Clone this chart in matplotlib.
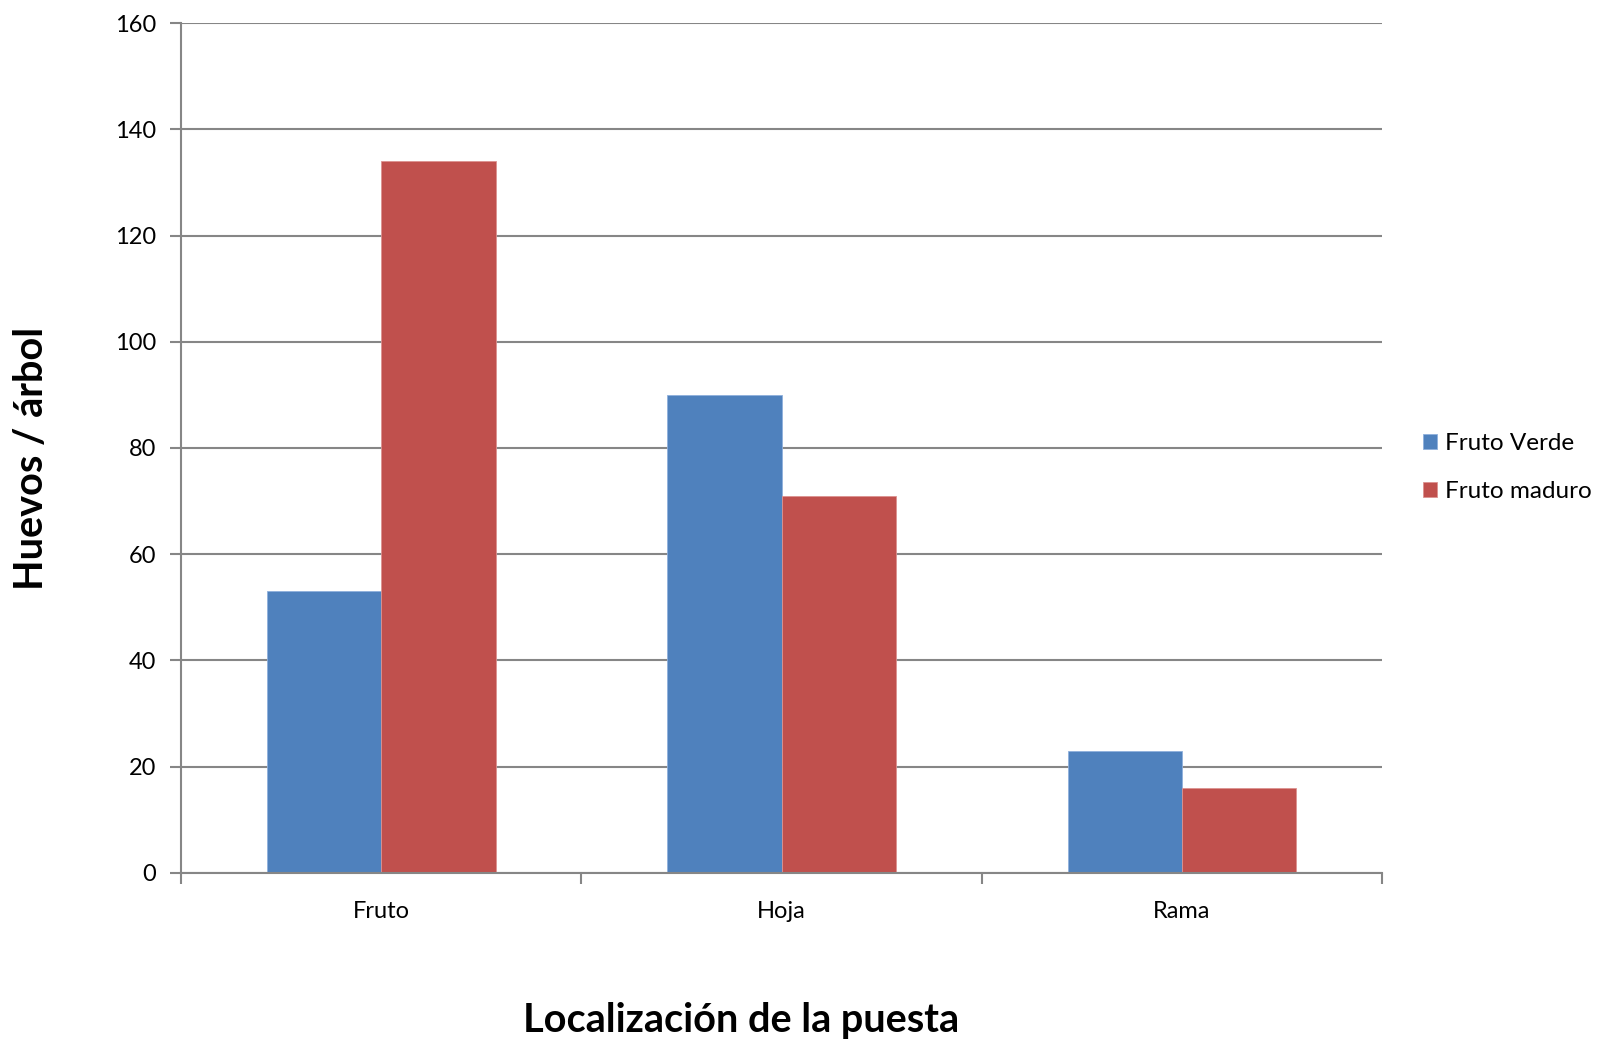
import matplotlib.pyplot as plt
import numpy as np

plt.rcParams["font.family"] = ["Lato", "DejaVu Sans"]

categories = ["Fruto", "Hoja", "Rama"]
series_names = ["Fruto Verde", "Fruto maduro"]
fruto_verde = [53, 90, 23]
fruto_maduro = [134, 71, 16]
colors = ["#4F81BD", "#C0504D"]
grid_color = "#868686"

fig = plt.figure(figsize=(16, 10.41), dpi=100)
ax = fig.add_axes([0.1131, 0.1614, 0.7507, 0.8165])

x = np.arange(len(categories))
width = 1 / 3.5
ax.bar(x - width / 2, fruto_verde, width, color=colors[0], label=series_names[0],
       edgecolor="#8fb0dc", linewidth=0.6, zorder=3)
ax.bar(x + width / 2, fruto_maduro, width, color=colors[1], label=series_names[1],
       edgecolor="#dc9290", linewidth=0.6, zorder=3)

ax.set_xlim(-0.5, len(categories) - 0.5)
ax.set_ylim(0, 160)
ax.set_yticks(np.arange(0, 161, 20))
ax.yaxis.grid(True, color=grid_color, lw=1.5, zorder=0)

# category boundaries carry the tick marks, labels sit at the centres
ax.set_xticks(np.arange(-0.5, len(categories), 1))
ax.set_xticklabels([])
ax.set_xticks(x, minor=True)
ax.set_xticklabels(categories, minor=True)
ax.tick_params(axis="x", which="major", length=8, width=1.5, color=grid_color)
ax.tick_params(axis="x", which="minor", length=0, pad=20, labelsize=17)
ax.tick_params(axis="y", length=8, width=1.5, color=grid_color, labelsize=17, pad=10)

for side in ["top", "right"]:
    ax.spines[side].set_visible(False)
for side in ["left", "bottom"]:
    ax.spines[side].set_color(grid_color)
    ax.spines[side].set_linewidth(1.5)
ax.spines["bottom"].set_zorder(4)

fig.text(0.463, 0.02, "Localización de la puesta", ha="center", va="center",
         fontsize=28.5, fontweight="bold")
fig.text(0.020, 0.56, "Huevos / árbol", ha="center", va="center",
         rotation=90, fontsize=28.5, fontweight="bold")

ax.legend(loc="center left", bbox_to_anchor=(0.8835, 0.551), bbox_transform=fig.transFigure,
          frameon=False, fontsize=17.5, handlelength=0.55, handleheight=0.55,
          handletextpad=0.35, labelspacing=1.1, borderaxespad=0)

fig.savefig("out.png", dpi=100)
